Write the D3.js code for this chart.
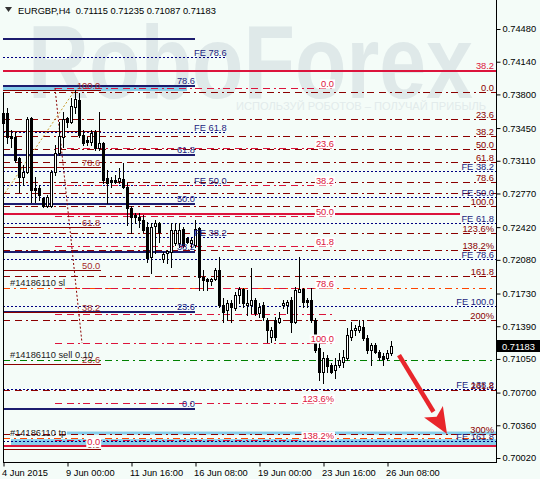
<!DOCTYPE html>
<html>
<head>
<meta charset="utf-8">
<script src="https://cdnjs.cloudflare.com/ajax/libs/d3/7.8.5/d3.min.js"></script>
<style>
  body { margin: 0; background: #f4fcf8; }
  svg { display: block; }
  text { font-family: 'Liberation Sans', Arial, sans-serif; }
</style>
</head>
<body>
<div id="chart"></div>
<script>
// Data
const title = 'EURGBP,H4  0.71115 0.71235 0.71087 0.71183'

// H4 candles: [open, high, low, close]
const candles = [
  [0.73503,0.73669,0.73482,0.73607],[0.73607,0.73659,0.73295,0.73357],[0.73368,0.73430,0.73253,0.73350],
  [0.73357,0.73409,0.73097,0.73118],[0.73139,0.73149,0.72785,0.72941],[0.72941,0.73066,0.72858,0.72993],
  [0.72993,0.73565,0.72983,0.73544],[0.73555,0.73565,0.72681,0.72806],[0.72827,0.72941,0.72681,0.72806],
  [0.72827,0.72858,0.72702,0.72754],[0.72723,0.72733,0.72629,0.72640],[0.72640,0.72754,0.72629,0.72733],
  [0.72640,0.73014,0.72629,0.72993],[0.72993,0.73274,0.72962,0.73191],[0.73191,0.73513,0.73170,0.73368],
  [0.73357,0.73617,0.73253,0.73544],[0.73555,0.73565,0.73461,0.73513],[0.73513,0.73763,0.73503,0.73680],
  [0.73669,0.73846,0.73607,0.73752],[0.73742,0.73815,0.73357,0.73378],[0.73378,0.73430,0.73274,0.73295],
  [0.73326,0.73357,0.73274,0.73306],[0.73306,0.73430,0.73274,0.73399],[0.73409,0.73430,0.73222,0.73243],
  [0.73243,0.73617,0.73222,0.73295],[0.73295,0.73306,0.72879,0.72910],[0.72931,0.73014,0.72671,0.72879],
  [0.72910,0.72941,0.72837,0.72889],[0.72910,0.72962,0.72879,0.72894],[0.72900,0.73035,0.72879,0.72931],
  [0.72920,0.73087,0.72827,0.72837],[0.72837,0.72879,0.72442,0.72619],[0.72619,0.72640,0.72359,0.72525],
  [0.72546,0.72567,0.72463,0.72525],[0.72525,0.72567,0.72421,0.72494],[0.72494,0.72546,0.72369,0.72390],
  [0.72421,0.72473,0.72057,0.72099],[0.72109,0.72463,0.71943,0.72421],[0.72432,0.72494,0.72151,0.72463],
  [0.72463,0.72473,0.72265,0.72369],[0.72088,0.72161,0.72057,0.72140],[0.72151,0.72182,0.72047,0.72172],
  [0.72161,0.72463,0.72005,0.72390],[0.72255,0.72463,0.72234,0.72390],[0.72255,0.72463,0.72213,0.72390],
  [0.72400,0.72421,0.72213,0.72234],[0.72306,0.72317,0.72255,0.72265],[0.72255,0.72306,0.72213,0.72286],
  [0.72234,0.72494,0.72213,0.72400],[0.72411,0.72421,0.71766,0.71901],[0.71901,0.71974,0.71766,0.71870],
  [0.71880,0.71891,0.71766,0.71860],[0.71860,0.71891,0.71818,0.71880],[0.71880,0.71995,0.71870,0.71974],
  [0.71974,0.72109,0.71589,0.71610],[0.71610,0.71683,0.71433,0.71537],[0.71558,0.71662,0.71454,0.71631],
  [0.71631,0.71662,0.71433,0.71589],[0.71579,0.71745,0.71558,0.71714],[0.71714,0.71797,0.71631,0.71776],
  [0.71776,0.71787,0.71589,0.71631],[0.71610,0.71766,0.71506,0.71631],[0.71610,0.71995,0.71527,0.71662],
  [0.71662,0.71683,0.71506,0.71527],[0.71527,0.71631,0.71485,0.71589],[0.71610,0.71641,0.71454,0.71485],
  [0.71454,0.71475,0.71225,0.71350],[0.71277,0.71381,0.71225,0.71350],[0.71454,0.71485,0.71246,0.71277],
  [0.71433,0.71537,0.71423,0.71475],[0.71610,0.71662,0.71579,0.71631],[0.71610,0.71662,0.71527,0.71641],
  [0.71662,0.71693,0.71329,0.71433],[0.71433,0.71797,0.71423,0.71766],[0.71745,0.72109,0.71745,0.71776],
  [0.71776,0.71787,0.71589,0.71641],[0.71662,0.71683,0.71589,0.71641],[0.71662,0.71787,0.71433,0.71454],
  [0.71454,0.71475,0.71121,0.71142],[0.71163,0.71215,0.70830,0.70913],[0.70913,0.71121,0.70799,0.71059],
  [0.71059,0.71090,0.70913,0.70976],[0.70986,0.71007,0.70903,0.70913],[0.70934,0.71059,0.70851,0.70986],
  [0.70986,0.71111,0.70965,0.71038],[0.71017,0.71142,0.70965,0.71069],[0.71059,0.71371,0.71038,0.71298],
  [0.71277,0.71433,0.71246,0.71350],[0.71350,0.71402,0.71298,0.71371],[0.71350,0.71454,0.71329,0.71392],
  [0.71381,0.71454,0.71246,0.71267],[0.71267,0.71298,0.71111,0.71142],[0.71142,0.71215,0.70986,0.71194],
  [0.71194,0.71215,0.71111,0.71121],[0.71121,0.71142,0.71038,0.71069],[0.71080,0.71111,0.70986,0.71048],
  [0.71059,0.71142,0.71038,0.71111],[0.71115,0.71235,0.71087,0.71183]
]

const priceTicks = [0.74480, 0.74140, 0.73800, 0.73450, 0.73110, 0.72770, 0.72420,
  0.72080, 0.71730, 0.71390, 0.71050, 0.70700, 0.70360, 0.70020]
const timeTickBars = [0, 16, 32, 48, 64, 80, 96]
const timeTickLabels = ['4 Jun 2015', '9 Jun 00:00', '11 Jun 16:00', '16 Jun 08:00',
  '19 Jun 00:00', '23 Jun 16:00', '26 Jun 08:00']

// Fibonacci objects: anchor prices [0%, 100%], levels and their labels
const rightFibAnchor = [0.73825, 0.72640]
const rightFibLevels = [0, 23.6, 38.2, 50, 61.8, 78.6, 88.6, 100, 123.6, 138.2, 161.8, 200, 261.8, 300]
const rightFibLabels = ['0.0', '23.6', '38.2', '50.0', '61.8', '78.6', '', '100.0', '123.6%', '138.2%', '161.8', '200%', '261.8', '300%']

const midFibAnchor = [0.73867, 0.71215]
const midFibLevels = [0, 23.6, 38.2, 50, 61.8, 78.6, 88.6, 100, 123.6, 138.2]
const midFibLabels = ['0.0', '23.6', '38.2', '50.0', '61.8', '78.6', '', '100.0', '123.6%', '138.2%']

const leftFibAnchor = [0.70112, 0.73846]
const leftFibLevels = [0, 23.6, 38.2, 50, 61.8, 78.6, 88.6, 100]
const leftFibLabels = ['0.0', '23.6', '38.2', '50.0', '61.8', '78.6', '', '100.0']

const blueFibAnchor = [0.70528, 0.74803]
const blueFibLevels = [0, 23.6, 38.2, 50, 61.8, 78.6]
const blueFibLabels = ['0.0', '23.6', '38.2', '50.0', '61.8', '78.6']

const feLeftAnchor = [0.70542, 0.75180]
const feLeftLevels = [38.2, 50, 61.8, 78.6]

const feRightAnchor = [0.73871, 0.71600]
const feRightLevels = [38.2, 50, 61.8, 78.6, 100, 138.2, 161.8]

// other objects
const redLinePrices = [0.74044, 0.72556, 0.70144]
const redLineLabels = ['38.2', '', '0.0']
const blueTopPrice = 0.74376
const orderPrices = [0.71038, 0.71787, 0.70227]
const orderLabels = ['#14186110 sell 0.10', '#14186110 sl', '#14186110 tp']
const bandPrices = [[0.73877, 0.73836], [0.70295, 0.70263], [0.70216, 0.70154]]
const bandStartBars = [0, 16, 2]
const bandEndBars = [46, null, null]
const trendLines = [[13, 0.73867, 19.75, 0.71215], [0.5, 0.72775, 18, 0.73846]]
const arrowPoints = [[99, 0.71090], [111, 0.70270]]

// Dimensions
let dimensions = { width: 540, height: 479, plotLeft: 3, plotRight: 496, plotBottom: 462 }

const svg = d3.select('#chart')
  .append('svg')
  .attr('width', dimensions.width)
  .attr('height', dimensions.height)

svg.append('rect').attr('width', dimensions.width).attr('height', dimensions.height).attr('fill', '#f4fcf8')

// scales
const xScale = d3.scaleLinear().domain([0, 97]).range([3, 391])
const yScale = d3.scaleLinear().domain([0.70020, 0.74480]).range([458, 29])
const edgeBar = xScale.invert(dimensions.plotRight)
const yPx = p => Math.round(yScale(p)) + 0.5

// watermark
svg.append('text')
  .attr('x', 28).attr('y', 98)
  .attr('font-size', 104).attr('font-weight', 'bold')
  .attr('textLength', 445).attr('lengthAdjust', 'spacingAndGlyphs')
  .attr('fill', '#dfe9e9')
  .text('RoboForex')
svg.append('text')
  .attr('x', 236).attr('y', 110)
  .attr('font-size', 11.5)
  .attr('textLength', 250).attr('lengthAdjust', 'spacingAndGlyphs')
  .attr('fill', '#e2ebeb')
  .text('ИСПОЛЬЗУЙ РОБОТОВ – ПОЛУЧАЙ ПРИБЫЛЬ')

const objects = svg.append('g')
const labels = svg.append('g').attr('font-size', 9.3)

// light blue bands
bandPrices.forEach((b, i) => {
  const x1 = xScale(bandStartBars[i])
  const x2 = xScale(bandEndBars[i] == null ? edgeBar : bandEndBars[i])
  objects.append('rect')
    .attr('x', x1).attr('width', x2 - x1)
    .attr('y', yScale(b[0])).attr('height', yScale(b[1]) - yScale(b[0]))
    .attr('fill', '#87ceeb')
})

function hline(price, b1, b2, color, dash, width) {
  const yy = width > 1 ? Math.round(yScale(price)) : yPx(price)
  objects.append('line')
    .attr('x1', xScale(b1)).attr('x2', xScale(b2))
    .attr('y1', yy).attr('y2', yy)
    .attr('stroke', color)
    .attr('stroke-width', width)
    .attr('stroke-dasharray', dash)
    .attr('shape-rendering', 'crispEdges')
  return yy
}

function label(txt, xPos, yy, color, anchor, bg) {
  if (!txt) return
  const t = labels.append('text')
    .attr('x', xPos).attr('y', yy - 2)
    .attr('text-anchor', anchor)
    .attr('fill', color)
    .text(txt)
  if (bg) {
    const bb = t.node().getBBox()
    labels.insert('rect', () => t.node())
      .attr('x', bb.x - 1).attr('y', bb.y + 1).attr('width', bb.width + 2).attr('height', bb.height - 1)
      .attr('fill', '#ffffff')
  }
}

const fibPrice = (anchor, r) => anchor[0] + r / 100 * (anchor[1] - anchor[0])
const dashDot = '7,5,7,4,2,3'

// blue thick retracement (left)
hline(blueTopPrice, 0, 48, '#1c1c6e', null, 2)
blueFibLevels.forEach((r, i) => {
  const yy = hline(fibPrice(blueFibAnchor, r), 0, 48, '#1c1c6e', null, 2)
  label(blueFibLabels[i], xScale(48), yy, '#1c1c80', 'end')
})

// left FE (dotted navy)
feLeftLevels.forEach(r => {
  const yy = hline(fibPrice(feLeftAnchor, r), 0, 55.5, '#000080', '2,2', 1)
  label('FE ' + r.toFixed(1), xScale(47.75), yy, '#1c1c80', 'start')
})

// right FE (dotted navy, full width)
feRightLevels.forEach(r => {
  const yy = hline(fibPrice(feRightAnchor, r), 0, edgeBar, '#000080', '2,2', 1)
  label('FE ' + r.toFixed(1), dimensions.plotRight - 2, yy, '#1c1c80', 'end')
})

// left dark red retracement (solid thin)
leftFibLevels.forEach((r, i) => {
  const yy = hline(fibPrice(leftFibAnchor, r), 0, 24.5, '#8b0000', null, 1)
  label(leftFibLabels[i], xScale(24.3), yy, '#a52a2a', 'end')
})

// right dark red retracement (full width)
rightFibLevels.forEach((r, i) => {
  const yy = hline(fibPrice(rightFibAnchor, r), 0, edgeBar, '#8b0000', dashDot, 1)
  label(rightFibLabels[i], dimensions.plotRight - 2, yy, '#8b0000', 'end')
})

// crimson thick lines
redLinePrices.forEach((p, i) => {
  const yy = hline(p, 0, i === 1 ? 114.25 : edgeBar, '#dc143c', null, 2)
  if (i === 0) label(redLineLabels[i], dimensions.plotRight - 2, yy, '#dc143c', 'end')
  if (i === 2) label(redLineLabels[i], xScale(24.3), yy + 1, '#dc143c', 'end', true)
})

// order lines
const orderColors = ['#008000', '#ff4500', '#ff4500']
orderPrices.forEach((p, i) => {
  const yy = hline(p, 0, edgeBar, orderColors[i], '7,4,2,4', 1)
  label(orderLabels[i], 10, yy - 1, '#222222', 'start')
})

// crimson retracement (middle)
midFibLevels.forEach((r, i) => {
  const yy = hline(fibPrice(midFibAnchor, r), 13, 83, '#dc143c', dashDot, 1)
  label(midFibLabels[i], xScale(82.75), yy, '#dc143c', 'end', true)
})

// dotted trend lines
const trendColors = ['#8b0000', '#c89b2a']
trendLines.forEach((t, i) => {
  objects.append('line')
    .attr('x1', xScale(t[0])).attr('y1', yScale(t[1]))
    .attr('x2', xScale(t[2])).attr('y2', yScale(t[3]))
    .attr('stroke', trendColors[i]).attr('stroke-dasharray', '2,2')
})

// candles
const ctr = svg.insert('g', () => labels.node())
ctr.selectAll('line')
  .data(candles)
  .join('line')
  .attr('x1', (d, i) => xScale(i) + 0.5)
  .attr('x2', (d, i) => xScale(i) + 0.5)
  .attr('y1', d => Math.round(yScale(d[1])))
  .attr('y2', d => Math.round(yScale(d[2])) + 1)
  .attr('stroke', '#000')
ctr.selectAll('rect')
  .data(candles)
  .join('rect')
  .attr('x', (d, i) => xScale(i) - 0.5)
  .attr('width', 2)
  .attr('y', d => Math.round(yScale(Math.max(d[0], d[3]))) + 0.5)
  .attr('height', d => Math.max(0.01, Math.round(Math.abs(yScale(d[0]) - yScale(d[3])))))
  .attr('fill', d => d[3] >= d[0] ? '#ffffff' : '#000000')
  .attr('stroke', '#000')

// red arrow
const a0 = [xScale(arrowPoints[0][0]), yScale(arrowPoints[0][1])]
const a1 = [xScale(arrowPoints[1][0]), yScale(arrowPoints[1][1])]
const ang = Math.atan2(a1[1] - a0[1], a1[0] - a0[0])
const headLen = 26, headW = 11
const hb = [a1[0] - headLen * Math.cos(ang), a1[1] - headLen * Math.sin(ang)]
svg.append('line')
  .attr('x1', a0[0]).attr('y1', a0[1]).attr('x2', hb[0]).attr('y2', hb[1])
  .attr('stroke', '#e8262b').attr('stroke-width', 4.5)
svg.append('path')
  .attr('d', `M${a1[0]},${a1[1]}L${hb[0] + headW * Math.sin(ang)},${hb[1] - headW * Math.cos(ang)}L${hb[0] + 6 * Math.cos(ang)},${hb[1] + 6 * Math.sin(ang)}L${hb[0] - headW * Math.sin(ang)},${hb[1] + headW * Math.cos(ang)}Z`)
  .attr('fill', '#e8262b')

// frame
svg.append('line').attr('x1', 3.5).attr('x2', 3.5).attr('y1', 92).attr('y2', dimensions.plotBottom).attr('stroke', '#000')
svg.append('line').attr('x1', 3).attr('x2', dimensions.plotRight).attr('y1', dimensions.plotBottom + 0.5).attr('y2', dimensions.plotBottom + 0.5).attr('stroke', '#000')
svg.append('line').attr('x1', dimensions.plotRight + 0.5).attr('x2', dimensions.plotRight + 0.5).attr('y1', 0).attr('y2', dimensions.plotBottom + 1).attr('stroke', '#000')

// axes
const yAxis = d3.axisRight(yScale).tickValues(priceTicks).tickFormat(d3.format('.5f')).tickSize(4).tickPadding(2)
const yAxisG = svg.append('g')
  .attr('transform', `translate(${dimensions.plotRight + 0.5},0)`)
  .call(yAxis)
yAxisG.select('.domain').remove()
yAxisG.selectAll('text').attr('font-size', 9.3).attr('font-family', "'Liberation Sans', Arial, sans-serif").attr('fill', '#000')

const xAxis = d3.axisBottom(xScale).tickValues(timeTickBars).tickFormat((d, i) => timeTickLabels[i]).tickSize(4).tickPadding(3)
const xAxisG = svg.append('g')
  .attr('transform', `translate(0.5,${dimensions.plotBottom + 0.5})`)
  .call(xAxis)
xAxisG.select('.domain').remove()
xAxisG.selectAll('text').attr('text-anchor', 'start').attr('dx', -2)
  .attr('font-size', 9.3).attr('font-family', "'Liberation Sans', Arial, sans-serif").attr('fill', '#000')

// current price box
const lastClose = candles[candles.length - 1][3]
const cy = Math.round(yScale(lastClose))
svg.append('rect').attr('x', 497).attr('y', cy - 6).attr('width', 43).attr('height', 12).attr('fill', '#000')
svg.append('text').attr('x', 502).attr('y', cy + 3.5).attr('font-size', 9.3).attr('fill', '#fff')
  .text(d3.format('.5f')(lastClose))

// title
svg.append('path').attr('d', 'M5,7L12,7L8.5,12Z').attr('fill', '#333')
svg.append('text').attr('x', 18).attr('y', 13.5).attr('font-size', 9.3).attr('fill', '#000')
  .attr('xml:space', 'preserve').style('white-space', 'pre')
  .text(title)
</script>
</body>
</html>
